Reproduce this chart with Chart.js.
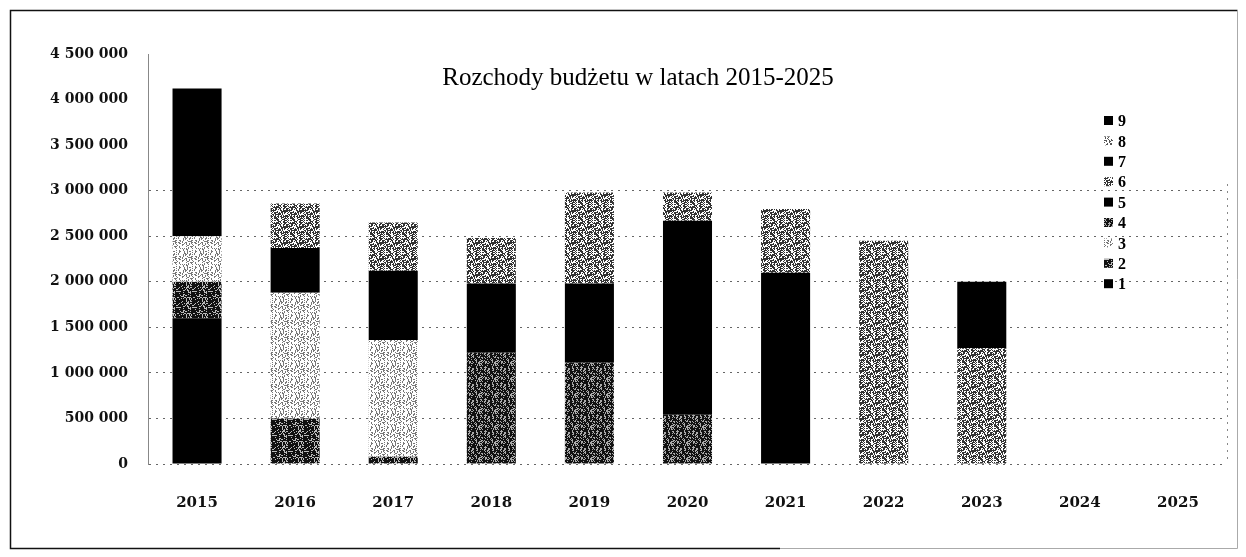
<!DOCTYPE html>
<html>
<head>
<meta charset="utf-8">
<script src="https://cdn.jsdelivr.net/npm/chart.js@4/dist/chart.umd.min.js"></script>
<style>
	html, body { margin: 0; padding: 0; background: #fff; }
	#wrap { position: relative; width: 1246px; height: 557px; }
</style>
</head>
<body>
<div id="wrap"><canvas id="chart" width="1246" height="557"></canvas></div>
<script>
const years = ['2015', '2016', '2017', '2018', '2019', '2020', '2021', '2022', '2023', '2024', '2025'];
const seriesNames = ['1', '2', '3', '4', '5', '6', '7', '8', '9'];

const s1 = [1600000, 0, 0, 0, 0, 0, 0, 0, 0, 0, 0];
const s2 = [400000, 500000, 80000, 0, 0, 0, 0, 0, 0, 0, 0];
const s3 = [500000, 1380000, 1280000, 0, 0, 0, 0, 0, 0, 0, 0];
const s4 = [0, 0, 0, 1220000, 1110000, 540000, 0, 0, 0, 0, 0];
const s5 = [1620000, 490000, 760000, 760000, 870000, 2130000, 2100000, 0, 0, 0, 0];
const s6 = [0, 490000, 530000, 500000, 1000000, 310000, 700000, 2450000, 1270000, 0, 0];
const s7 = [0, 0, 0, 0, 0, 0, 0, 0, 730000, 0, 0];
const s8 = [0, 0, 0, 0, 0, 0, 0, 0, 0, 0, 0];
const s9 = [0, 0, 0, 0, 0, 0, 0, 0, 0, 0, 0];

const yTicks = [0, 500000, 1000000, 1500000, 2000000, 2500000, 3000000, 3500000, 4000000, 4500000];

// speckled fills, like the scanned print
function speckle(base, dot, density, seed) {
	const c = document.createElement('canvas');
	c.width = 16; c.height = 16;
	const g = c.getContext('2d');
	g.fillStyle = base;
	g.fillRect(0, 0, 16, 16);
	g.fillStyle = dot;
	for (let y = 0; y < 16; y++) {
		for (let x = 0; x < 16; x++) {
			const h = ((x * 73 + y * 151 + seed * 37) ^ (x * y * 17 + seed)) % 100;
			if (h < density) g.fillRect(x, y, 1, 1);
		}
	}
	return g.createPattern(c, 'repeat');
}

const ctx = document.getElementById('chart');
const fills = [
	'#000',
	speckle('#111', '#bbb', 28, 2),
	speckle('#fff', '#777', 30, 3),
	speckle('#111', '#aaa', 30, 4),
	'#000',
	speckle('#fff', '#333', 55, 6),
	'#000',
	speckle('#fff', '#555', 35, 8),
	'#000'
];
const allSeries = [s1, s2, s3, s4, s5, s6, s7, s8, s9];

const decor = {
	id: 'decor',
	afterDraw(chart) {
		const c = chart.ctx;
		const area = chart.chartArea;
		c.save();
		// frame
		c.strokeStyle = '#111';
		c.lineWidth = 1.5;
		c.beginPath();
		c.moveTo(780, 548.5); c.lineTo(10.5, 548.5); c.lineTo(10.5, 10.5); c.lineTo(1237.5, 10.5);
		c.stroke();
		c.strokeStyle = '#aaa';
		c.lineWidth = 1;
		c.beginPath();
		c.moveTo(780, 548.5); c.lineTo(1237.5, 548.5); c.lineTo(1237.5, 10.5);
		c.stroke();
		// right dotted edge
		c.setLineDash([2, 5]);
		c.strokeStyle = '#888';
		c.beginPath();
		c.moveTo(area.right + 0.5, area.top + 130); c.lineTo(area.right + 0.5, area.bottom);
		c.stroke();
		c.setLineDash([]);
		// title
		c.fillStyle = '#000';
		c.font = '25px "Liberation Serif", "Times New Roman", serif';
		c.textAlign = 'center';
		c.textBaseline = 'middle';
		c.fillText('Rozchody budżetu w latach 2015-2025', 638, 78);
		// legend, 9 on top
		c.font = 'bold 16px "Liberation Serif", serif';
		c.textAlign = 'left';
		for (let i = 8; i >= 0; i--) {
			const y = 121 + (8 - i) * 20.4;
			c.fillStyle = fills[i];
			c.fillRect(1104, y - 5, 9, 9);
			c.fillStyle = '#000';
			c.fillText(seriesNames[i], 1118, y + 1);
		}
		c.restore();
	}
};

new Chart(ctx, {
	type: 'bar',
	data: {
		labels: years,
		datasets: allSeries.map((data, i) => ({
			label: seriesNames[i],
			data: data,
			backgroundColor: fills[i],
			borderWidth: 0,
			barPercentage: 0.5,
			categoryPercentage: 1,
		})),
	},
	options: {
		responsive: false,
		animation: false,
		layout: { padding: { left: 0, right: 19, top: 54, bottom: 0 } },
		plugins: {
			legend: { display: false },
			tooltip: { enabled: false },
			title: { display: false },
		},
		scales: {
			x: {
				stacked: true,
				grid: { display: false },
				border: { display: false },
				ticks: {
					color: '#111',
					padding: 22,
					font: { family: '"DejaVu Serif", serif', size: 15, weight: 'bold' },
				},
				afterFit: (scale) => { scale.height = 93; },
			},
			y: {
				stacked: true,
				min: 0,
				max: 4500000,
				afterBuildTicks: (scale) => { scale.ticks = yTicks.map(v => ({ value: v })); },
				grid: {
					color: (c) => c.tick && c.tick.value > 3000000 ? 'rgba(0,0,0,0)' : '#666',
					drawTicks: false,
				},
				border: { display: true, dash: [2, 5], color: '#888' },
				ticks: {
					color: '#111',
					padding: 20,
					font: { family: '"DejaVu Serif", serif', size: 14, weight: 'bold' },
					callback: (v) => String(v).replace(/\B(?=(\d{3})+(?!\d))/g, ' '),
				},
				afterFit: (scale) => { scale.width = 148; },
			},
		},
	},
	plugins: [decor],
});
</script>
</body>
</html>
